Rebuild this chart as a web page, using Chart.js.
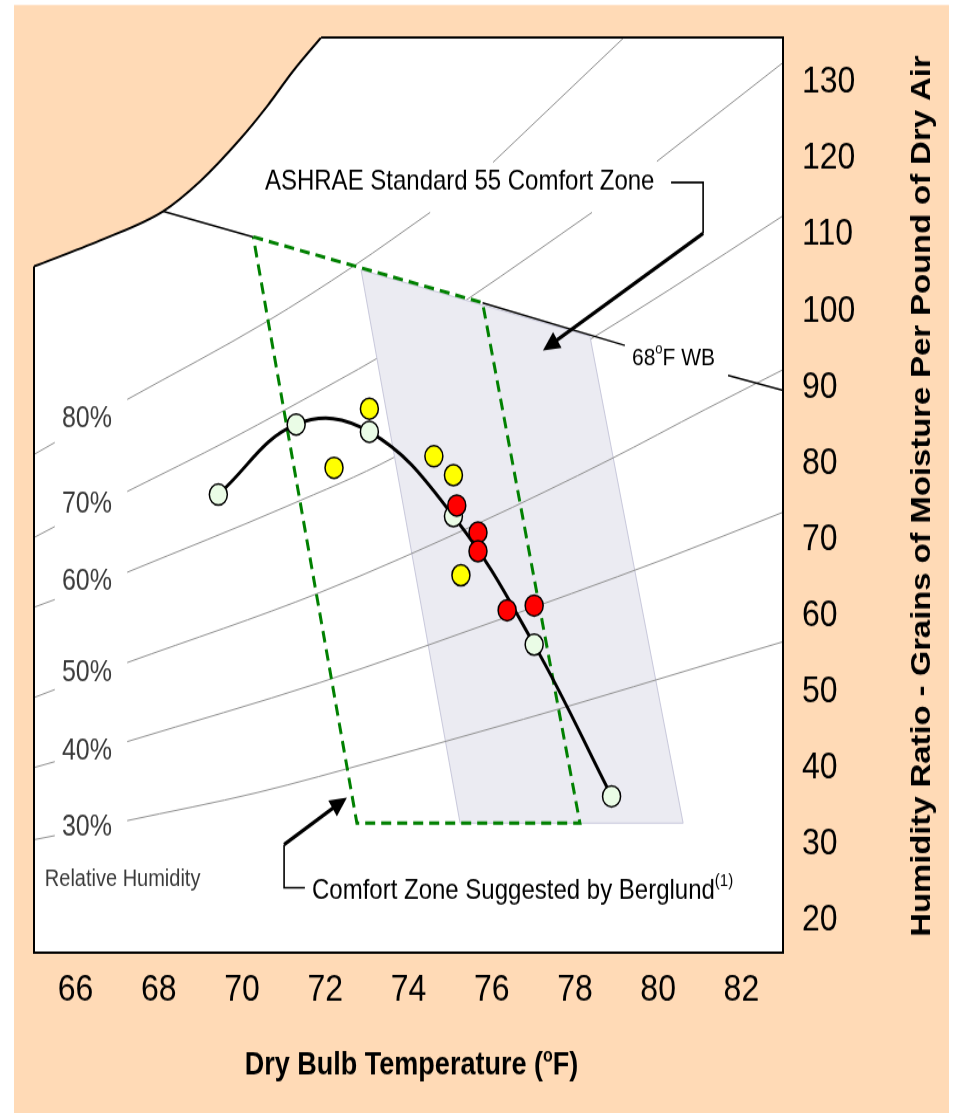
<!DOCTYPE html>
<html>
<head>
<meta charset="utf-8">
<title>Comfort Zone - Psychrometric Chart</title>
<script src="https://cdn.jsdelivr.net/npm/chart.js@4.4.1/dist/chart.umd.min.js"></script>
<style>
  html, body { margin: 0; padding: 0; background: #fff; }
  body { width: 953px; height: 1113px; }
  /* the source picture is stretched vertically, so the canvas is too */
  #chart { display: block; }
</style>
</head>
<body>
<canvas id="chart" width="953" height="951" style="width:953px;height:1113px"></canvas>
<script>
// Axis tick labels
const xTicks = [66, 68, 70, 72, 74, 76, 78, 80, 82];
const yTicks = [20, 30, 40, 50, 60, 70, 80, 90, 100, 110, 120, 130];

// Measured conditions (dry bulb °F, grains of moisture per lb dry air)
const curveTemp = [69.43, 71.30, 73.06, 75.08, 77.02, 78.88];
const curveGrains = [75.52, 84.71, 83.76, 72.68, 55.83, 35.92];
const yellowTemp = [73.06, 72.21, 74.61, 75.08, 75.26];
const yellowGrains = [86.78, 79.03, 80.55, 78.06, 64.93];
const redTemp = [75.16, 75.67, 75.67, 76.37, 77.02];
const redGrains = [74.08, 70.54, 68.08, 60.34, 60.95];

// Comfort zones (closed outlines)
const ashraeTemp = [72.86, 78.36, 80.60, 75.24, 72.86];
const ashraeGrains = [105.0, 96.3, 32.4, 32.4, 105.0];
const berglundTemp = [70.27, 75.78, 78.12, 72.76, 70.27];
const berglundGrains = [109.33, 100.69, 32.4, 32.4, 109.33];

// 68°F wet bulb line (null = gap in the line)
const wbTemp = [68.10, 70.27, null, 75.78, 79.20, null, 81.68, 83.00];
const wbGrains = [112.68, 109.33, null, 100.69, 95.09, null, 91.15, 89.18];

// Saturation curve (100% RH), edge of the chart
const satTemp = [65.00, 66.59, 68.10, 68.99, 69.95, 70.60, 71.22, 71.90];
const satGrains = [105.46, 108.87, 112.68, 116.61, 122.13, 126.46, 131.05, 135.5];

// Relative humidity curves (gaps where labels sit)
const rh80Temp = [65.00, 65.50, null, 67.24, 70.60, 72.67, 74.52, null, 76.03, 79.18];
const rh80Grains = [80.78, 82.35, null, 88.00, 98.24, 105.46, 112.54, null, 119.11, 135.5];
const rh70Temp = [65.00, 65.50, null, 67.24, 69.71, 72.35, 73.24, 75.48, 78.41, null, 79.97, 83.00];
const rh70Grains = [69.88, 71.32, null, 75.92, 82.74, 90.62, 93.38, 101.39, 112.54, null, 119.24, 132.2];
const rh60Temp = [65.00, 65.50, null, 67.24, 71.08, 73.63, 78.36, 80.28, 83.00];
const rh60Grains = [60.73, 61.74, null, 65.32, 73.99, 80.34, 95.87, 102.44, 112.1];
const rh50Temp = [65.00, 65.50, null, 67.24, 71.87, 75.72, 78.84, 81.13, 83.00];
const rh50Grains = [48.88, 49.93, null, 53.47, 62.66, 71.85, 80.12, 86.68, 91.9];
const rh40Temp = [65.00, 65.50, null, 67.24, 71.87, 75.72, 80.12, 83.00];
const rh40Grains = [39.69, 40.47, null, 43.10, 50.84, 58.20, 66.99, 73.2];
const rh30Temp = [65.00, 65.50, null, 67.24, 70.36, 73.32, 75.72, 77.81, 81.01, 83.00];
const rh30Grains = [30.23, 30.76, null, 32.73, 36.40, 40.74, 44.41, 47.69, 52.95, 56.2];

const rhLabels = ["80%", "70%", "60%", "50%", "40%", "30%"];

// Layout and look
const FONT = "'Liberation Sans', Arial, Helvetica, sans-serif";
const PEACH = "#FFDAB6";
const W = 953, H = 951;
const PLOT_BOTTOM = 814;

// label anchors in chart units
const rhLabelPos = [[65.67, 85.37], [65.67, 74.21], [65.67, 64.10], [65.67, 52.16], [65.67, 41.79], [65.67, 31.81]];

const pts = (xs, ys) => xs.map((x, i) => (x === null ? { x: null, y: null } : { x, y: ys[i] }));

function rhLine(label, temps, grains, order) {
  return {
    label,
    data: pts(temps, grains),
    showLine: true,
    borderColor: "#909090",
    borderWidth: 1,
    pointRadius: 0,
    cubicInterpolationMode: "monotone",
    fill: false,
    order,
  };
}

function px(chart, t) { return chart.scales.x.getPixelForValue(t); }
function py(chart, w) { return chart.scales.y.getPixelForValue(w); }

// text with superscripts: parts = [text, size, bold, rise]
function richText(ctx, parts, x, y, align) {
  const fontOf = (p) => (p[2] ? "bold " : "") + p[1] + "px " + FONT;
  let total = 0;
  const widths = parts.map((p) => {
    ctx.font = fontOf(p);
    const w = ctx.measureText(p[0]).width;
    total += w;
    return w;
  });
  let cx = align === "center" ? x - total / 2 : x;
  ctx.textAlign = "left";
  ctx.textBaseline = "middle";
  parts.forEach((p, i) => {
    ctx.font = fontOf(p);
    ctx.fillText(p[0], cx, y - (p[3] || 0));
    cx += widths[i];
  });
}

function callout(ctx, chart, path, tip) {
  ctx.strokeStyle = "#000";
  ctx.fillStyle = "#000";
  ctx.lineWidth = 1.6;
  ctx.lineJoin = "miter";
  ctx.beginPath();
  path.forEach(([t, g], i) => {
    const X = px(chart, t), Y = py(chart, g);
    if (i) ctx.lineTo(X, Y); else ctx.moveTo(X, Y);
  });
  ctx.stroke();

  const [t0, g0] = path[path.length - 1];
  const x0 = px(chart, t0), y0 = py(chart, g0);
  const x1 = px(chart, tip[0]), y1 = py(chart, tip[1]);
  const ang = Math.atan2(y1 - y0, x1 - x0);
  const len = 17, hw = 8;
  const bx = x1 - len * Math.cos(ang), by = y1 - len * Math.sin(ang);
  ctx.lineWidth = 3.2;
  ctx.beginPath();
  ctx.moveTo(x0, y0);
  ctx.lineTo(bx + 2 * Math.cos(ang), by + 2 * Math.sin(ang));
  ctx.stroke();
  ctx.beginPath();
  ctx.moveTo(x1, y1);
  ctx.lineTo(bx - hw * Math.sin(ang), by + hw * Math.cos(ang));
  ctx.lineTo(bx + hw * Math.sin(ang), by - hw * Math.cos(ang));
  ctx.closePath();
  ctx.fill();
}

const decorations = {
  id: "decorations",
  beforeDraw(chart) {
    const { ctx, chartArea: a } = chart;
    ctx.save();
    ctx.fillStyle = "#fff";
    ctx.fillRect(0, 0, W, H);
    ctx.fillStyle = PEACH;
    ctx.fillRect(14, 4.3, 935, H);
    ctx.fillStyle = "#fff";
    ctx.fillRect(a.left, a.top + 1, a.right - a.left, a.bottom - a.top - 1);
    ctx.restore();
  },
  afterDatasetsDraw(chart) {
    const { ctx, chartArea: a } = chart;
    ctx.save();

    // plot frame (the top-left corner is cut by the saturation curve)
    ctx.strokeStyle = "#000";
    ctx.lineWidth = 2;
    ctx.beginPath();
    ctx.moveTo(px(chart, satTemp[satTemp.length - 1]), a.top);
    ctx.lineTo(a.right, a.top);
    ctx.lineTo(a.right, a.bottom);
    ctx.lineTo(a.left, a.bottom);
    ctx.lineTo(a.left, py(chart, satGrains[0]));
    ctx.stroke();

    // relative humidity labels
    ctx.fillStyle = "#3a3a3a";
    rhLabels.forEach((lab, i) => {
      richText(ctx, [[lab, 25]], px(chart, rhLabelPos[i][0]), py(chart, rhLabelPos[i][1]), "left");
    });
    richText(ctx, [["Relative Humidity", 20]], px(chart, 65.26), py(chart, 24.98), "left");

    // annotations
    ctx.fillStyle = "#000";
    richText(ctx, [["ASHRAE Standard 55 Comfort Zone", 24]], px(chart, 70.55), py(chart, 116.48), "left");
    richText(ctx, [["68", 21], ["o", 13, false, 8], ["F WB", 21]], px(chart, 79.37), py(chart, 93.38), "left");
    richText(ctx, [["Comfort Zone Suggested by Berglund", 24], ["(1)", 15, false, 9]], px(chart, 71.68), py(chart, 23.41), "left");

    callout(ctx, chart, [[80.31, 116.48], [81.08, 116.48], [81.08, 109.79]], [77.23, 94.43]);
    callout(ctx, chart, [[71.51, 23.93], [71.01, 23.93], [71.01, 29.58]], [72.52, 35.75]);

    ctx.restore();
  },
  afterDraw(chart) {
    const { ctx } = chart;
    ctx.save();
    ctx.fillStyle = "#000";
    richText(ctx, [["Dry Bulb Temperature (", 27, true], ["o", 16, true, 8.5], ["F)", 27, true]], 411.5, 911, "center");

    ctx.translate(922.5, 423.8);
    ctx.rotate(-Math.PI / 2);
    ctx.font = "bold 28px " + FONT;
    ctx.textAlign = "center";
    ctx.textBaseline = "middle";
    ctx.fillText("Humidity Ratio - Grains of Moisture Per Pound of Dry Air", 0, 0);
    ctx.restore();
  },
};

new Chart(document.getElementById("chart"), {
  type: "scatter",
  data: {
    datasets: [
      {
        label: "Red",
        data: pts(redTemp, redGrains),
        pointRadius: 9,
        pointBackgroundColor: "#FF0000",
        pointBorderColor: "#000",
        pointBorderWidth: 1.5,
        order: 0,
      },
      {
        label: "Measured",
        data: pts(curveTemp, curveGrains),
        showLine: true,
        tension: 0.4,
        borderColor: "#000",
        borderWidth: 3,
        pointRadius: 9,
        pointBackgroundColor: "#EAFCE6",
        pointBorderColor: "#000",
        pointBorderWidth: 1.5,
        order: 1,
      },
      {
        label: "Yellow",
        data: pts(yellowTemp, yellowGrains),
        pointRadius: 9,
        pointBackgroundColor: "#FFFF00",
        pointBorderColor: "#000",
        pointBorderWidth: 1.5,
        order: 2,
      },
      {
        label: "Saturation",
        data: pts(satTemp, satGrains),
        showLine: true,
        cubicInterpolationMode: "monotone",
        borderColor: "#000",
        borderWidth: 2,
        backgroundColor: PEACH,
        fill: "end",
        pointRadius: 0,
        order: 3,
      },
      {
        label: "Berglund",
        data: pts(berglundTemp, berglundGrains),
        showLine: true,
        borderColor: "#008000",
        borderWidth: 3,
        borderDash: [10, 6],
        pointRadius: 0,
        fill: false,
        order: 4,
      },
      {
        label: "68F WB",
        data: pts(wbTemp, wbGrains),
        showLine: true,
        borderColor: "#000",
        borderWidth: 1.5,
        pointRadius: 0,
        order: 5,
      },
      rhLine("30%", rh30Temp, rh30Grains, 6),
      rhLine("40%", rh40Temp, rh40Grains, 7),
      rhLine("50%", rh50Temp, rh50Grains, 8),
      {
        label: "ASHRAE 55",
        data: pts(ashraeTemp, ashraeGrains),
        showLine: true,
        borderColor: "#C9C9DC",
        borderWidth: 1,
        backgroundColor: "#EBEBF2",
        fill: "shape",
        pointRadius: 0,
        order: 9,
      },
      rhLine("60%", rh60Temp, rh60Grains, 10),
      rhLine("70%", rh70Temp, rh70Grains, 11),
      rhLine("80%", rh80Temp, rh80Grains, 12),
    ],
  },
  options: {
    responsive: false,
    devicePixelRatio: 1,
    animation: false,
    events: [],
    layout: { padding: { top: 32, left: 34, right: 0, bottom: 0 } },
    plugins: { legend: { display: false }, tooltip: { enabled: false } },
    scales: {
      x: {
        type: "linear",
        min: 65,
        max: 83,
        afterBuildTicks: (s) => { s.ticks = xTicks.map((v) => ({ value: v })); },
        afterFit: (s) => {
          s.height = H - PLOT_BOTTOM;
          s.paddingLeft = 0;
          s.paddingRight = 0;
        },
        grid: { display: false, drawTicks: false },
        border: { display: false },
        ticks: { font: { family: FONT, size: 32 }, color: "#000", padding: 12.5, autoSkip: false, maxRotation: 0 },
      },
      y: {
        type: "linear",
        position: "right",
        min: 15.4,
        max: 135.5,
        afterBuildTicks: (s) => { s.ticks = yTicks.map((v) => ({ value: v })); },
        afterFit: (s) => {
          s.width = 170;
          s.paddingTop = 0;
          s.paddingBottom = 0;
        },
        grid: { display: false, drawTicks: false },
        border: { display: false },
        ticks: { font: { family: FONT, size: 32 }, color: "#000", padding: 19, labelOffset: 2.6, autoSkip: false },
      },
    },
  },
  plugins: [decorations],
});
</script>
</body>
</html>
